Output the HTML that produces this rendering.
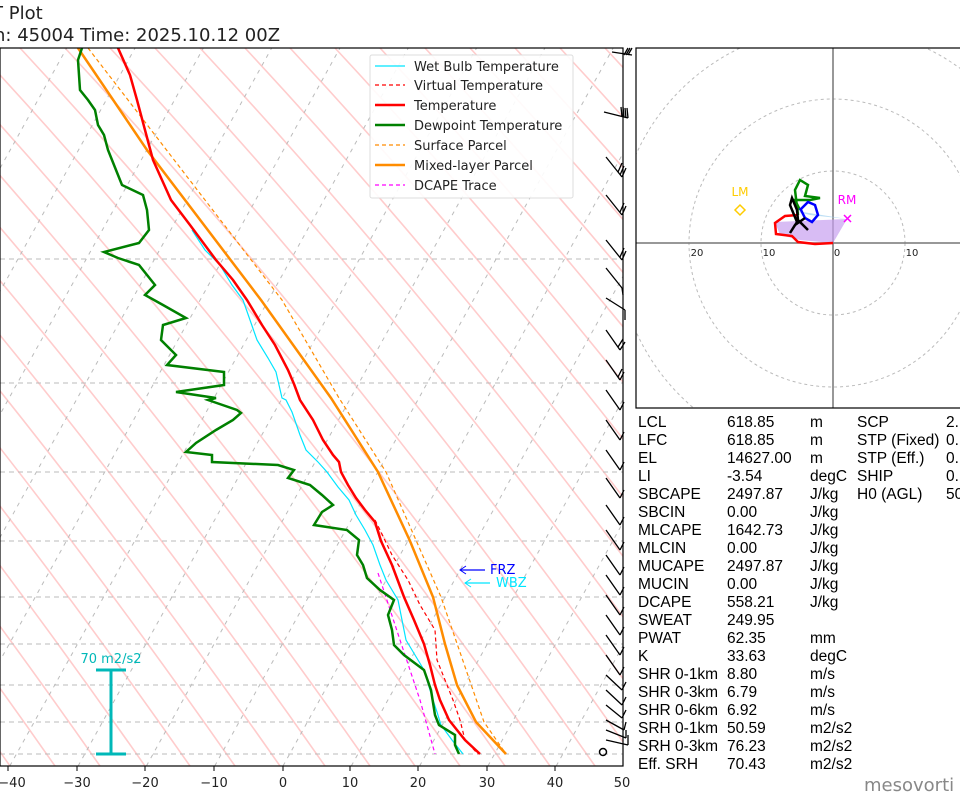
<!DOCTYPE html>
<html><head><meta charset="utf-8"><style>
body{margin:0;background:#fff;width:960px;height:800px;overflow:hidden;font-family:"DejaVu Sans","Liberation Sans",sans-serif}
svg{position:absolute;left:0;top:0}
</style></head><body>
<svg width="960" height="800" viewBox="0 0 960 800" xmlns="http://www.w3.org/2000/svg">
<defs><clipPath id="cp"><rect x="0" y="48" width="623" height="718"/></clipPath>
<clipPath id="hc"><rect x="636" y="48" width="330" height="360"/></clipPath></defs>
<text x="-8" y="19" font-size="18" fill="#222">T Plot</text>
<text x="-6" y="41" font-size="18" fill="#222">n: 45004 Time: 2025.10.12 00Z</text>
<g clip-path="url(#cp)">
<g stroke="#fcc" stroke-width="1.6" fill="none" id="dry"></g>
<g stroke="#bbb" stroke-width="1" stroke-dasharray="4,5" fill="none" id="iso"></g>
<g stroke="#bbb" stroke-width="1" stroke-dasharray="5,4">
<line x1="0" x2="623" y1="259" y2="259"/><line x1="0" x2="623" y1="383" y2="383"/><line x1="0" x2="623" y1="472" y2="472"/><line x1="0" x2="623" y1="541" y2="541"/><line x1="0" x2="623" y1="597" y2="597"/><line x1="0" x2="623" y1="644" y2="644"/><line x1="0" x2="623" y1="685" y2="685"/><line x1="0" x2="623" y1="722" y2="722"/><line x1="0" x2="623" y1="754" y2="754"/>
</g>
<polyline fill="none" stroke="#ff8c00" stroke-width="1.2" stroke-dasharray="4,3" points="88,48 282,300 339,398 386,472 441,597 484,722 506,754"/>
<polyline fill="none" stroke="#ff8c00" stroke-width="2.5" points="78,48 147,150 261,300 331,398 378,472 410,541 433,597 445,644 457,685 476,722 506,754"/>
<polyline fill="none" stroke="#f0f" stroke-width="1.2" stroke-dasharray="4,3" points="378,573 400,640 420,700 435,754"/>
<polyline fill="none" stroke="#00e5ff" stroke-width="1.2" points="192,230 205,250 220,265 232,285 243,300 250,320 257,340 268,358 276,372 282,398 286,400 292,412 300,435 306,450 318,462 327,472 338,487 349,500 356,515 365,530 373,545 380,565 386,580 398,600 402,620 406,640 412,650 418,660 424,670 433,700 437,712 441,725 452,740 463,754"/>
<polyline fill="none" stroke="#f00" stroke-width="1.2" stroke-dasharray="4,3" points="375,520 380,530 392,555 408,580 420,605 435,630 437,660 445,680 453,700 460,720 465,740 478,754"/>
<polyline fill="none" stroke="#f00" stroke-width="2.5" points="118,48 130,75 137,100 145,130 153,160 171,200 190,225 216,260 233,280 247,300 262,325 275,345 288,370 294,384 300,400 313,420 323,440 333,455 339,462 341,472 348,485 356,498 365,510 375,522 381,541 392,565 404,597 414,620 424,644 430,665 435,685 440,700 449,720 465,740 480,754"/>
<polyline fill="none" stroke="#008000" stroke-width="2.5" points="82,48 78,60 80,90 88,100 95,110 98,125 104,135 108,150 116,170 122,185 143,195 147,210 149,230 139,243 104,252 118,258 139,265 155,285 145,295 163,305 186,318 163,325 161,340 176,355 167,365 224,372 224,385 176,392 216,398 208,400 237,410 241,413 233,420 216,430 196,443 186,452 212,455 212,462 278,465 294,470 288,478 310,485 322,495 333,505 322,512 314,525 347,530 359,540 357,555 363,565 367,578 380,590 394,600 388,615 392,630 394,645 404,655 424,670 431,690 435,715 439,725 455,735 455,745 459,754"/>
</g>
<rect x="0" y="48" width="623" height="718" fill="none" stroke="#000" stroke-width="1.2"/>
<g font-size="13" fill="#222" text-anchor="middle">
<text x="12" y="787">−40</text><text x="77" y="787">−30</text><text x="145" y="787">−20</text><text x="214" y="787">−10</text><text x="283" y="787">0</text><text x="350" y="787">10</text><text x="418" y="787">20</text><text x="487" y="787">30</text><text x="555" y="787">40</text><text x="622" y="787">50</text>
</g>
<g stroke="#000" stroke-width="1"><line x1="8" y1="766" x2="8" y2="771"/><line x1="77" y1="766" x2="77" y2="771"/><line x1="145" y1="766" x2="145" y2="771"/><line x1="214" y1="766" x2="214" y2="771"/><line x1="283" y1="766" x2="283" y2="771"/><line x1="350" y1="766" x2="350" y2="771"/><line x1="418" y1="766" x2="418" y2="771"/><line x1="487" y1="766" x2="487" y2="771"/><line x1="555" y1="766" x2="555" y2="771"/></g>
<rect x="370" y="55" width="203" height="143" fill="#fff" fill-opacity="0.9" stroke="#ddd" rx="2"/>
<g font-size="13" fill="#222">
<line x1="375" x2="405" y1="66" y2="66" stroke="#00e5ff" stroke-width="1.2"/><text x="414" y="71">Wet Bulb Temperature</text>
<line x1="375" x2="405" y1="85" y2="85" stroke="#f00" stroke-width="1.2" stroke-dasharray="4,3"/><text x="414" y="90">Virtual Temperature</text>
<line x1="375" x2="405" y1="105" y2="105" stroke="#f00" stroke-width="2.5"/><text x="414" y="110">Temperature</text>
<line x1="375" x2="405" y1="125" y2="125" stroke="#008000" stroke-width="2.5"/><text x="414" y="130">Dewpoint Temperature</text>
<line x1="375" x2="405" y1="145" y2="145" stroke="#ff8c00" stroke-width="1.2" stroke-dasharray="4,3"/><text x="414" y="150">Surface Parcel</text>
<line x1="375" x2="405" y1="165" y2="165" stroke="#ff8c00" stroke-width="2.5"/><text x="414" y="170">Mixed-layer Parcel</text>
<line x1="375" x2="405" y1="185" y2="185" stroke="#f0f" stroke-width="1.2" stroke-dasharray="4,3"/><text x="414" y="190">DCAPE Trace</text>
</g>
<line x1="460" y1="570" x2="485" y2="570" stroke="#00f" stroke-width="1.2"/><path d="M466,566 L460,570 L466,574" fill="none" stroke="#00f"/>
<text x="490" y="574" font-size="13" fill="#00f">FRZ</text>
<line x1="465" y1="583" x2="490" y2="583" stroke="#00e5ff" stroke-width="1.2"/><path d="M471,579 L465,583 L471,587" fill="none" stroke="#00e5ff"/>
<text x="496" y="587" font-size="13" fill="#00e5ff">WBZ</text>
<g stroke="#00b8b8" stroke-width="3"><line x1="111" y1="670" x2="111" y2="754"/><line x1="96" y1="670" x2="126" y2="670"/><line x1="96" y1="754" x2="126" y2="754"/></g>
<text x="111" y="663" font-size="13" fill="#00b8b8" text-anchor="middle">70 m2/s2</text>
<g stroke="#000" stroke-width="1.3" fill="none">
<path d="M612,52 L632,55 M628,55 L632,48 M626,55 L630,48 M624,55 L628,48"/>
<path d="M604,112 L628,118 M628,118 L627,108 M626,118 L625,108 M624,117 L623,107 M622,117 L621,107"/>
<path d="M606,157 L622,177 M622,177 L626,168 M620,175 L624,166 M618,172 L622,163"/>
<path d="M606,195 L622,215 M622,215 L626,206 M620,212 L624,203"/>
<path d="M606,240 L622,260 M622,260 L626,251 M620,257 L624,248"/>
<path d="M606,268 L622,288 M622,288 L623,295"/>
<path d="M606,298 L625,310 M625,310 L625,320"/>
<path d="M606,330 L620,350 M620,350 L625,342 M618,347 L623,339"/>
<path d="M606,360 L620,380 M620,380 L624,372 M618,377 L622,369"/>
<path d="M606,390 L620,410 M620,410 L624,402"/>
<path d="M606,420 L620,440 M620,440 L624,432"/>
<path d="M606,450 L620,470 M620,470 L624,462"/>
<path d="M606,478 L620,498 M620,498 L624,490"/>
<path d="M606,505 L620,525 M620,525 L624,517"/>
<path d="M606,530 L620,550 M620,550 L624,542"/>
<path d="M606,555 L620,575 M620,575 L624,567"/>
<path d="M606,575 L620,595 M620,595 L624,587"/>
<path d="M606,595 L620,615 M620,615 L624,607"/>
<path d="M606,615 L620,635 M620,635 L624,627"/>
<path d="M606,635 L620,655 M620,655 L624,647"/>
<path d="M606,655 L620,675 M620,675 L624,667"/>
<path d="M606,675 L622,690 M622,690 L626,682"/>
<path d="M606,690 L622,705 M622,705 L626,697"/>
<path d="M606,705 L622,718 M622,718 L626,710"/>
<path d="M606,720 L624,730 M624,730 L626,722"/>
<path d="M606,730 L626,738 M626,738 L626,730"/>
<path d="M606,740 L628,745 M628,745 L628,735"/>
</g>
<circle cx="603" cy="752" r="3.5" fill="none" stroke="#000" stroke-width="1.5"/>
<g clip-path="url(#hc)">
<g fill="none" stroke="#bbb" stroke-dasharray="3,3"><circle cx="833" cy="243" r="72"/><circle cx="833" cy="243" r="144"/><circle cx="833" cy="243" r="216"/></g>
<line x1="636" x2="966" y1="243" y2="243" stroke="#777" stroke-width="1.5"/>
<line x1="833" x2="833" y1="48" y2="408" stroke="#777" stroke-width="1.5"/>
<polygon points="847,219 775,222 780,235 800,240 833,243" fill="#c8a0f0" fill-opacity="0.7"/>
<polygon points="847,219 790,210 810,215" fill="#a0d0f0" fill-opacity="0.7"/>
<polyline fill="none" stroke="#f00" stroke-width="2.5" points="833,243 815,244 798,242 792,236 776,234 775,223 785,216 798,215"/>
<polyline fill="none" stroke="#080" stroke-width="2.5" points="798,215 795,190 800,180 808,185 805,196 820,198 810,200 795,200 800,210"/>
<polyline fill="none" stroke="#00f" stroke-width="2.5" points="800,210 808,202 815,205 818,215 812,222 805,218 800,208"/>
<polyline fill="none" stroke="#000" stroke-width="2.5" points="805,218 795,225 790,233 797,222 790,205 792,198 797,210 798,220 808,230"/>
<path d="M735,210 L740,205 L745,210 L740,215Z" fill="none" stroke="#fc0" stroke-width="1.5"/>
<text x="740" y="196" font-size="12" fill="#fc0" text-anchor="middle">LM</text>
<path d="M844,215 L851,222 M851,215 L844,222" stroke="#f0f" stroke-width="1.5"/>
<text x="847" y="204" font-size="12" fill="#f0f" text-anchor="middle">RM</text>
<g font-size="10" fill="#222" text-anchor="middle"><text x="697" y="256">20</text><text x="769" y="256">10</text><text x="837" y="256">0</text><text x="912" y="256">10</text></g>
</g>
<rect x="636" y="48" width="340" height="360" fill="none" stroke="#000" stroke-width="1.2"/>
<g font-family="Liberation Sans, sans-serif" font-size="15.5" fill="#000">
<text x="638" y="427">LCL</text><text x="727" y="427">618.85</text><text x="810" y="427">m</text><text x="857" y="427">SCP</text><text x="946" y="427">2.</text>
<text x="638" y="445">LFC</text><text x="727" y="445">618.85</text><text x="810" y="445">m</text><text x="857" y="445">STP (Fixed)</text><text x="946" y="445">0.</text>
<text x="638" y="463">EL</text><text x="727" y="463">14627.00</text><text x="810" y="463">m</text><text x="857" y="463">STP (Eff.)</text><text x="946" y="463">0.</text>
<text x="638" y="481">LI</text><text x="727" y="481">-3.54</text><text x="810" y="481">degC</text><text x="857" y="481">SHIP</text><text x="946" y="481">0.</text>
<text x="638" y="499">SBCAPE</text><text x="727" y="499">2497.87</text><text x="810" y="499">J/kg</text><text x="857" y="499">H0 (AGL)</text><text x="946" y="499">50</text>
<text x="638" y="517">SBCIN</text><text x="727" y="517">0.00</text><text x="810" y="517">J/kg</text>
<text x="638" y="535">MLCAPE</text><text x="727" y="535">1642.73</text><text x="810" y="535">J/kg</text>
<text x="638" y="553">MLCIN</text><text x="727" y="553">0.00</text><text x="810" y="553">J/kg</text>
<text x="638" y="571">MUCAPE</text><text x="727" y="571">2497.87</text><text x="810" y="571">J/kg</text>
<text x="638" y="589">MUCIN</text><text x="727" y="589">0.00</text><text x="810" y="589">J/kg</text>
<text x="638" y="607">DCAPE</text><text x="727" y="607">558.21</text><text x="810" y="607">J/kg</text>
<text x="638" y="625">SWEAT</text><text x="727" y="625">249.95</text>
<text x="638" y="643">PWAT</text><text x="727" y="643">62.35</text><text x="810" y="643">mm</text>
<text x="638" y="661">K</text><text x="727" y="661">33.63</text><text x="810" y="661">degC</text>
<text x="638" y="679">SHR 0-1km</text><text x="727" y="679">8.80</text><text x="810" y="679">m/s</text>
<text x="638" y="697">SHR 0-3km</text><text x="727" y="697">6.79</text><text x="810" y="697">m/s</text>
<text x="638" y="715">SHR 0-6km</text><text x="727" y="715">6.92</text><text x="810" y="715">m/s</text>
<text x="638" y="733">SRH 0-1km</text><text x="727" y="733">50.59</text><text x="810" y="733">m2/s2</text>
<text x="638" y="751">SRH 0-3km</text><text x="727" y="751">76.23</text><text x="810" y="751">m2/s2</text>
<text x="638" y="769">Eff. SRH</text><text x="727" y="769">70.43</text><text x="810" y="769">m2/s2</text>
</g>
<text x="864" y="791" font-size="18" fill="#888">mesovorti</text>
</svg>
<script>
(function(){
var d=document.getElementById("dry"),s="";
for(var x0=-700;x0<700;x0+=45){s+='<path d="M'+x0+',48 Q'+(x0+293)+',363 '+(x0+575)+',766"/>';}
d.innerHTML=s;
var g=document.getElementById("iso");s="";
for(var T=-140;T<=50;T+=10){var xb=283+6.83*T;s+='<line x1="'+xb+'" y1="766" x2="'+(xb+0.555*718)+'" y2="48"/>';}
g.innerHTML=s;
})();
</script>
</body></html>
